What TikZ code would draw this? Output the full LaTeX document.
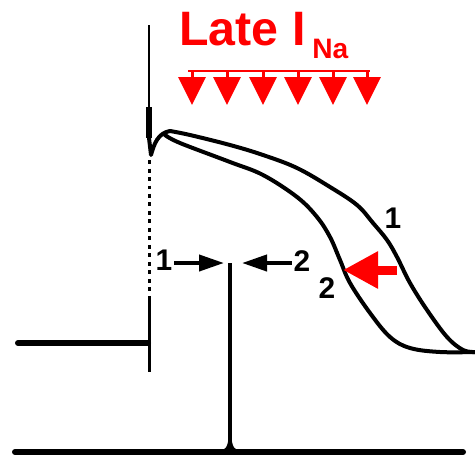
\documentclass[tikz,border=0pt]{standalone}
\usepackage{fontspec}
\setmainfont{Liberation Sans}
\usetikzlibrary{arrows.meta}

\tikzset{
  trace/.style={line width=0.8mm, line cap=round, line join=round},
  baseline/.style={line width=1.2mm, line cap=round},
  lab/.style={inner sep=1pt, font=\bfseries\fontsize{17}{20}\selectfont},
  blkarrow/.style={line width=0.8mm, -{Triangle[length=5mm,width=3.2mm]}},
  droparrow/.style={red, line width=0.6mm, -{Triangle[length=5.6mm,width=5.4mm]}},
  bigred/.style={red, line width=1.8mm, -{Triangle[length=7mm,width=7mm]}}
}

\begin{document}
\begin{tikzpicture}[x=0.02cm, y=-0.02cm]
  \useasboundingbox (0,0) rectangle (475,463);

  % Title
  \node[anchor=base west, inner sep=0, text=red, font=\bfseries\fontsize{27.5}{30}\selectfont] (title) at (179,45) {Late I};
  \node[anchor=base west, inner sep=0, text=red, font=\bfseries\fontsize{16}{18}\selectfont] (titlesub) at (312,58) {Na};

  % Late current arrows
  \draw[red, line width=0.5mm] (188,71) -- (370,71);
  \foreach \x in {192,227,263,298,333,367}
    \draw[droparrow] (\x,71) -- (\x,105);

  % Upstroke
  \draw[line width=0.5mm] (149,25) -- (149,107);
  \draw[line width=1.1mm] (149,107) -- (149,138);
  \draw[line width=0.6mm, dash pattern=on 0.8mm off 0.9mm] (149,160) -- (149,300);
  \draw[line width=0.6mm] (149,300) -- (149,372);

  % Resting potential
  \draw[baseline] (18,343) -- (148,343);

  % Notch
  \draw[trace] (149,138) -- (151,155) .. controls (154,144) and (158,133) .. (170,131);

  % Action potential 1
  \draw[trace] plot[smooth, tension=0.6] coordinates {(170,131) (190,135) (230,145) (263,155) (297,168) (330,187) (357,205) (373,223) (387,240) (397,257) (410,283) (427,310) (447,337) (463,350) (475,352)};

  % Action potential 2
  \draw[trace] plot[smooth, tension=0.6] coordinates {(165,135) (180,143) (230,162) (263,175) (297,197) (317,217) (330,237) (340,260) (350,283) (370,313) (390,337) (410,348) (440,352) (475,352)};

  % Bottom trace with spike
  \draw[baseline] (15,452) -- (463,452);
  \draw[line width=0.7mm] (230,263) -- (230,452);
  \fill (223,450) .. controls (228,448) and (229,440) .. (229,425) -- (231,425) .. controls (231,440) and (232,448) .. (237,450) -- cycle;

  % Labels
  \coordinate (lefttip) at (224,263);
  \coordinate (righttip) at (242,263);
  \node[lab] (one) at (164,260) {1};
  \node[lab] (two) at (302,261) {2};
  \draw[blkarrow] (lefttip -| one.east) -- (lefttip);
  \draw[blkarrow] (righttip -| two.west) -- (righttip);
  \node[lab] (curveone) at (393,218) {1};
  \node[lab] (curvetwo) at (327,288) {2};

  % Shorter action potential
  \coordinate (redtip) at (343,270);
  \coordinate (redtail) at (397,270);
  \draw[bigred] (redtail) -- (redtip);
\end{tikzpicture}
\end{document}
